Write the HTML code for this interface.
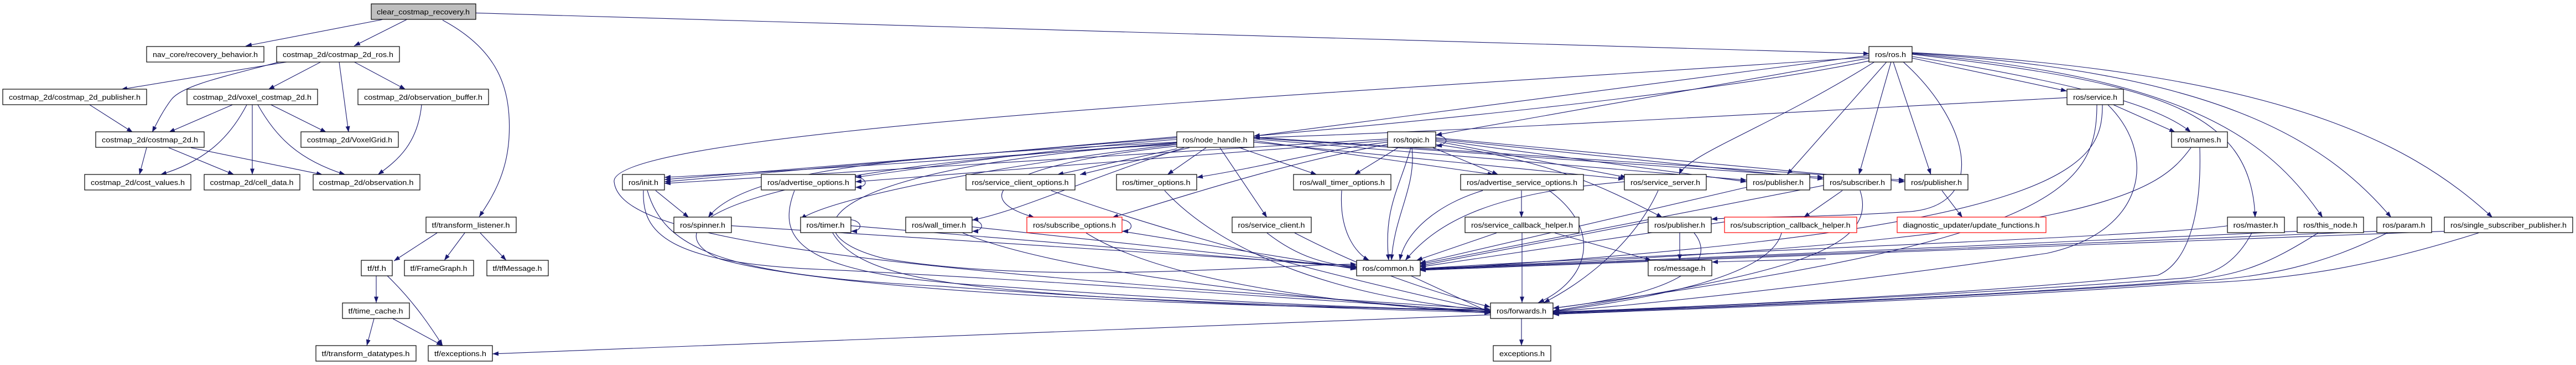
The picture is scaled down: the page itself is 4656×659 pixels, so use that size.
<!DOCTYPE html>
<html><head><meta charset="utf-8"><style>
html,body{margin:0;padding:0;background:#fff;}
svg{display:block;}
text{font-family:"Liberation Sans",sans-serif;font-size:13px;fill:#000;}
</style></head><body>
<svg width="4656" height="659" viewBox="0 0 4656 659" xmlns="http://www.w3.org/2000/svg">
<defs><marker id="a" markerWidth="11" markerHeight="8" refX="11" refY="4" orient="auto" markerUnits="userSpaceOnUse"><path d="M0,0L11,4L0,8z" fill="#191970"/></marker></defs>
<rect width="4656" height="659" fill="#fff"/>
<g fill="none" stroke="#191970" stroke-width="1.1" marker-end="url(#a)" transform="matrix(1,0,0,0.99265,0,0.62)">
<path d="M691,35L444,83"/><path d="M735,35L640,83"/>
<path d="M800,36C900,90 925,160 920,250C916,320 885,365 866,394"/>
<path d="M860,23L3379,97"/>
<path d="M519,112L219,162"/>
<path d="M505,112C400,140 330,155 310,180C295,200 285,220 275,240"/>
<path d="M580,112L485,162"/><path d="M613,112L630,240"/><path d="M640,112L733,162"/>
<path d="M162,190L240,240"/><path d="M420,190L305,240"/>
<path d="M446,190C420,240 380,290 290,317"/><path d="M456,190L456,317"/>
<path d="M466,190C500,250 540,290 624,317"/><path d="M490,190L590,240"/>
<path d="M762,190C755,260 720,290 683,317"/>
<path d="M265,268L252,317"/><path d="M305,268L423,317"/><path d="M345,268L583,317"/>
<path d="M790,423L712,474"/><path d="M840,423L803,473"/><path d="M868,423L915,473"/>
<path d="M680,501L680,550"/><path d="M700,501C740,540 770,580 800,628"/>
<path d="M676,579L663,628"/><path d="M710,579L800,628"/>
<path d="M2694,572L890,643"/>
<!-- ros.h -->
<path d="M3379,100L2266,247"/><path d="M3379,105L2595,245"/>
<path d="M3456,105L3736,165"/>
<path d="M3456,102C3750,150 3900,190 3960,240"/>
<path d="M3456,98C3900,150 4070,200 4076,395"/>
<path d="M3456,97C3950,140 4100,250 4198,395"/>
<path d="M3456,96C4000,130 4200,250 4322,395"/>
<path d="M3456,95C4100,130 4350,250 4505,395"/>
<path d="M3410,112L3230,317"/><path d="M3418,112L3360,317"/><path d="M3422,112L3490,317"/>
<path d="M3440,112C3560,220 3600,380 3440,385C3300,395 3150,393 3093,398"/>
<path d="M3388,112C3200,230 3050,280 3035,317"/>
<path d="M3379,110C3000,190 2000,280 1201,322"/>
<path d="M3379,103C2600,160 1100,230 1110,330C1120,420 1400,480 2694,562"/>
<!-- service.h -->
<path d="M3736,177C3300,200 2600,240 2266,250"/>
<path d="M3820,190L3932,240"/>
<path d="M3790,190C3790,350 3700,440 2807,560"/>
<path d="M3800,190C3800,300 3750,420 2566,490"/>
<path d="M3810,190C3900,280 3880,420 3700,460C3300,520 2900,560 2807,566"/>
<!-- names etc -->
<path d="M3960,268C3900,350 3800,440 2566,488"/>
<path d="M3976,268C3980,400 3950,480 3900,500C3500,540 3000,560 2807,567"/>
<path d="M4026,410C3900,430 3000,460 2566,488"/>
<path d="M4070,423C4040,480 4000,500 3950,505C3500,540 3000,560 2807,568"/>
<path d="M4152,420C3800,440 3000,470 2566,489"/>
<path d="M4190,423C4100,480 4050,500 3950,510C3500,545 3000,560 2807,569"/>
<path d="M4296,420C3900,440 3000,470 2566,490"/>
<path d="M4315,423C4200,480 4100,505 3950,512C3500,545 3000,562 2807,570"/>
<path d="M4418,420C4000,440 3000,470 2566,491"/>
<path d="M4480,423C4300,480 4150,510 3950,515C3500,548 3000,563 2807,571"/>
<!-- node_handle -->
<path d="M2127,250L1201,326"/><path d="M2127,248L1201,330"/>
<path d="M2127,253C1900,270 1700,300 1546,322"/>
<path d="M2127,258C1700,280 1350,300 1280,395"/>
<path d="M2127,262C1800,300 1500,360 1447,398"/>
<path d="M2140,268C1950,330 1850,380 1757,400"/>
<path d="M2127,265C1800,300 1750,360 1870,395"/>
<path d="M2127,270L1911,317"/><path d="M2150,268L1952,317"/>
<path d="M2180,268L2110,317"/><path d="M2240,268L2380,317"/>
<path d="M2205,268L2290,395"/>
<path d="M2266,255L2700,317"/><path d="M2266,258L2936,325"/>
<path d="M2266,252L3157,327"/><path d="M2266,250L3296,322"/><path d="M2266,249L3443,327"/>
<path d="M2127,260C1500,300 1400,420 1600,470C1900,520 2300,480 2452,480"/>
<path d="M2127,262C1400,300 1150,400 1300,470C1500,530 2200,560 2694,562"/>
<!-- topic -->
<path d="M2595,245C2620,248 2620,262 2595,265"/>
<path d="M2508,258C2400,270 2300,300 2163,322"/>
<path d="M2508,255L1546,330"/><path d="M2508,252L1201,333"/>
<path d="M2527,268L2448,317"/><path d="M2590,268L2708,317"/>
<path d="M2550,268C2530,340 2500,380 2510,473"/>
<path d="M2552,268C2560,340 2520,390 2515,473"/>
<path d="M2595,256L2940,322"/><path d="M2595,254L3157,330"/><path d="M2595,252L3296,325"/><path d="M2595,250L3443,330"/>
<path d="M2595,262C2800,290 2900,340 3005,395"/>
<path d="M2508,262C2300,300 2100,370 2010,395"/>
<!-- rank 4/5 -->
<path d="M1185,346L1245,395"/>
<path d="M1163,346C1160,420 1200,480 1500,490C1900,510 2300,540 2694,566"/>
<path d="M1170,346C1200,450 1300,500 1700,520C2100,550 2400,560 2694,568"/>
<path d="M1546,320C1570,325 1570,340 1546,340"/>
<path d="M1436,346C1400,440 1450,500 1800,520C2200,550 2500,560 2694,565"/>
<path d="M1322,410L2452,483"/>
<path d="M1538,399C1560,402 1560,420 1538,420"/>
<path d="M1538,410L2452,486"/>
<path d="M1505,423C1550,500 1700,520 2000,540C2300,555 2500,560 2694,566"/>
<path d="M1757,399C1780,402 1780,420 1757,420"/>
<path d="M1757,412L2452,487"/>
<path d="M1740,423C1900,490 2300,540 2694,567"/>
<path d="M2028,399C2050,402 2050,420 2028,420"/>
<path d="M2028,420L2452,489"/>
<path d="M1963,423C2100,510 2400,550 2694,569"/>
<path d="M1900,346C2100,420 2400,500 2694,565"/>
<path d="M2105,346C2200,450 2400,540 2694,564"/>
<path d="M2425,346C2420,420 2450,460 2475,473"/>
<path d="M2290,423C2350,470 2400,480 2452,485"/>
<path d="M2340,423C2450,480 2550,520 2694,558"/>
<path d="M2750,346L2750,395"/>
<path d="M2680,346C2600,370 2540,420 2530,473"/>
<path d="M2800,346C2900,420 2870,510 2780,550"/>
<path d="M2936,330C2700,350 2600,400 2540,473"/>
<path d="M2997,346C2950,450 2850,520 2790,550"/>
<path d="M2705,423L2560,473"/><path d="M2751,423L2751,550"/><path d="M2810,423L2985,473"/>
<path d="M3036,423L3036,473"/><path d="M2979,403L2566,483"/>
<path d="M3062,423C3100,470 3060,530 2807,560"/>
<path d="M3330,330L2566,480"/>
<path d="M3330,346L3260,395"/>
<path d="M3362,346C3400,460 3200,500 2807,565"/>
<path d="M3117,403L2566,485"/>
<path d="M3220,423C3200,500 3000,540 2807,566"/>
<path d="M3510,346L3547,395"/>
<path d="M3157,340L2566,478"/>
<path d="M3300,470L3094,476"/>
<path d="M2550,501L2694,568"/>
<path d="M2750,579L2750,628"/>
</g>
<g fill="#fff" stroke="#000" stroke-width="1.2">
<rect x="671" y="7" width="189" height="28" fill="#bfbfbf"/>
<rect x="265" y="84" width="212" height="28"/><rect x="500" y="84" width="222" height="28"/>
<rect x="5" y="161" width="260" height="28"/><rect x="338" y="161" width="236" height="28"/><rect x="647" y="161" width="236" height="28"/>
<rect x="173" y="238" width="196" height="28"/><rect x="544" y="238" width="176" height="28"/>
<rect x="153" y="315" width="192" height="28"/><rect x="369" y="315" width="173" height="28"/><rect x="566" y="315" width="193" height="28"/>
<rect x="770" y="392" width="163" height="28"/>
<rect x="653" y="470" width="56" height="28"/><rect x="731" y="470" width="125" height="28"/><rect x="880" y="470" width="111" height="28"/>
<rect x="619" y="547" width="121" height="28"/>
<rect x="571" y="624" width="181" height="28"/><rect x="774" y="624" width="116" height="28"/>
<rect x="3378" y="84" width="78" height="28"/>
<rect x="3736" y="161" width="102" height="28"/>
<rect x="3925" y="238" width="101" height="28"/><rect x="2127" y="238" width="139" height="28"/><rect x="2508" y="238" width="87" height="28"/>
<rect x="1125" y="315" width="76" height="28"/><rect x="1376" y="315" width="170" height="28"/><rect x="1746" y="315" width="197" height="28"/>
<rect x="2018" y="315" width="145" height="28"/><rect x="2338" y="315" width="176" height="28"/><rect x="2640" y="315" width="222" height="28"/>
<rect x="2936" y="315" width="148" height="28"/><rect x="3157" y="315" width="114" height="28"/><rect x="3296" y="315" width="122" height="28"/><rect x="3443" y="315" width="114" height="28"/>
<rect x="1218" y="392" width="104" height="28"/><rect x="1447" y="392" width="91" height="28"/><rect x="1637" y="392" width="120" height="28"/>
<rect x="1856" y="392" width="172" height="28" stroke="#f00"/>
<rect x="2227" y="392" width="143" height="28"/><rect x="2648" y="392" width="206" height="28"/><rect x="2979" y="392" width="114" height="28"/>
<rect x="3117" y="392" width="239" height="28" stroke="#f00"/><rect x="3429" y="392" width="269" height="28" stroke="#f00"/>
<rect x="4026" y="392" width="103" height="28"/><rect x="4152" y="392" width="120" height="28"/><rect x="4296" y="392" width="99" height="28"/><rect x="4418" y="392" width="232" height="28"/>
<rect x="2452" y="470" width="115" height="28"/><rect x="2979" y="470" width="115" height="28"/>
<rect x="2694" y="547" width="113" height="28"/><rect x="2699" y="624" width="104" height="28"/>
</g>
<g text-anchor="middle" lengthAdjust="spacingAndGlyphs">
<text x="765" y="26" textLength="168" lengthAdjust="spacingAndGlyphs">clear_costmap_recovery.h</text>
<text x="371" y="103" textLength="190" lengthAdjust="spacingAndGlyphs">nav_core/recovery_behavior.h</text>
<text x="611" y="103" textLength="200" lengthAdjust="spacingAndGlyphs">costmap_2d/costmap_2d_ros.h</text>
<text x="135" y="180" textLength="238" lengthAdjust="spacingAndGlyphs">costmap_2d/costmap_2d_publisher.h</text>
<text x="456" y="180" textLength="214" lengthAdjust="spacingAndGlyphs">costmap_2d/voxel_costmap_2d.h</text>
<text x="765" y="180" textLength="214" lengthAdjust="spacingAndGlyphs">costmap_2d/observation_buffer.h</text>
<text x="271" y="257" textLength="174" lengthAdjust="spacingAndGlyphs">costmap_2d/costmap_2d.h</text>
<text x="632" y="257" textLength="154" lengthAdjust="spacingAndGlyphs">costmap_2d/VoxelGrid.h</text>
<text x="249" y="334" textLength="170" lengthAdjust="spacingAndGlyphs">costmap_2d/cost_values.h</text>
<text x="455" y="334" textLength="151" lengthAdjust="spacingAndGlyphs">costmap_2d/cell_data.h</text>
<text x="662" y="334" textLength="171" lengthAdjust="spacingAndGlyphs">costmap_2d/observation.h</text>
<text x="851" y="411" textLength="141" lengthAdjust="spacingAndGlyphs">tf/transform_listener.h</text>
<text x="681" y="489" textLength="34" lengthAdjust="spacingAndGlyphs">tf/tf.h</text>
<text x="793" y="489" textLength="103" lengthAdjust="spacingAndGlyphs">tf/FrameGraph.h</text>
<text x="935" y="489" textLength="89" lengthAdjust="spacingAndGlyphs">tf/tfMessage.h</text>
<text x="679" y="566" textLength="99" lengthAdjust="spacingAndGlyphs">tf/time_cache.h</text>
<text x="661" y="643" textLength="159" lengthAdjust="spacingAndGlyphs">tf/transform_datatypes.h</text>
<text x="832" y="643" textLength="94" lengthAdjust="spacingAndGlyphs">tf/exceptions.h</text>
<text x="3417" y="103" textLength="56" lengthAdjust="spacingAndGlyphs">ros/ros.h</text>
<text x="3787" y="180" textLength="80" lengthAdjust="spacingAndGlyphs">ros/service.h</text>
<text x="3975" y="257" textLength="79" lengthAdjust="spacingAndGlyphs">ros/names.h</text>
<text x="2196" y="257" textLength="117" lengthAdjust="spacingAndGlyphs">ros/node_handle.h</text>
<text x="2551" y="257" textLength="65" lengthAdjust="spacingAndGlyphs">ros/topic.h</text>
<text x="1163" y="334" textLength="54" lengthAdjust="spacingAndGlyphs">ros/init.h</text>
<text x="1461" y="334" textLength="148" lengthAdjust="spacingAndGlyphs">ros/advertise_options.h</text>
<text x="1844" y="334" textLength="175" lengthAdjust="spacingAndGlyphs">ros/service_client_options.h</text>
<text x="2090" y="334" textLength="123" lengthAdjust="spacingAndGlyphs">ros/timer_options.h</text>
<text x="2426" y="334" textLength="154" lengthAdjust="spacingAndGlyphs">ros/wall_timer_options.h</text>
<text x="2751" y="334" textLength="200" lengthAdjust="spacingAndGlyphs">ros/advertise_service_options.h</text>
<text x="3010" y="334" textLength="126" lengthAdjust="spacingAndGlyphs">ros/service_server.h</text>
<text x="3214" y="334" textLength="92" lengthAdjust="spacingAndGlyphs">ros/publisher.h</text>
<text x="3357" y="334" textLength="100" lengthAdjust="spacingAndGlyphs">ros/subscriber.h</text>
<text x="3500" y="334" textLength="92" lengthAdjust="spacingAndGlyphs">ros/publisher.h</text>
<text x="1270" y="411" textLength="82" lengthAdjust="spacingAndGlyphs">ros/spinner.h</text>
<text x="1492" y="411" textLength="69" lengthAdjust="spacingAndGlyphs">ros/timer.h</text>
<text x="1697" y="411" textLength="98" lengthAdjust="spacingAndGlyphs">ros/wall_timer.h</text>
<text x="1942" y="411" textLength="150" lengthAdjust="spacingAndGlyphs">ros/subscribe_options.h</text>
<text x="2298" y="411" textLength="121" lengthAdjust="spacingAndGlyphs">ros/service_client.h</text>
<text x="2751" y="411" textLength="184" lengthAdjust="spacingAndGlyphs">ros/service_callback_helper.h</text>
<text x="3036" y="411" textLength="92" lengthAdjust="spacingAndGlyphs">ros/publisher.h</text>
<text x="3236" y="411" textLength="217" lengthAdjust="spacingAndGlyphs">ros/subscription_callback_helper.h</text>
<text x="3563" y="411" textLength="247" lengthAdjust="spacingAndGlyphs">diagnostic_updater/update_functions.h</text>
<text x="4077" y="411" textLength="81" lengthAdjust="spacingAndGlyphs">ros/master.h</text>
<text x="4212" y="411" textLength="98" lengthAdjust="spacingAndGlyphs">ros/this_node.h</text>
<text x="4345" y="411" textLength="77" lengthAdjust="spacingAndGlyphs">ros/param.h</text>
<text x="4534" y="411" textLength="210" lengthAdjust="spacingAndGlyphs">ros/single_subscriber_publisher.h</text>
<text x="2509" y="489" textLength="93" lengthAdjust="spacingAndGlyphs">ros/common.h</text>
<text x="3036" y="489" textLength="93" lengthAdjust="spacingAndGlyphs">ros/message.h</text>
<text x="2750" y="566" textLength="90" lengthAdjust="spacingAndGlyphs">ros/forwards.h</text>
<text x="2751" y="643" textLength="82" lengthAdjust="spacingAndGlyphs">exceptions.h</text>
</g>
</svg>
</body></html>
